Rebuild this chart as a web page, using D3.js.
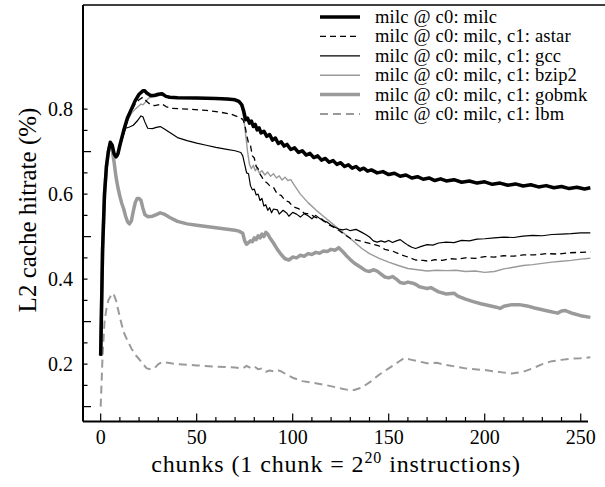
<!DOCTYPE html>
<html>
<head>
<meta charset="utf-8">
<script src="https://cdn.jsdelivr.net/npm/d3@7"></script>
<style>
  body { margin: 0; background: #fff; }
  svg text { font-family: "Liberation Serif", "Times New Roman", serif; fill: #000; }
</style>
</head>
<body>
<div id="chart"></div>
<script>
// series data, [chunk, hitrate]
const milc = [[0,0.22],[1,0.47],[2,0.6],[3,0.665],[4,0.70],[5,0.722],[6,0.715],[7,0.695],[8,0.688],[9,0.695],[10,0.715],[12,0.75],[14,0.78],[16,0.80],[18,0.82],[20,0.835],[22,0.843],[23,0.843],[24,0.838],[26,0.832],[28,0.832],[30,0.835],[32,0.836],[34,0.830],[36,0.828],[40,0.827],[50,0.826],[60,0.825],[66,0.824],[70,0.822],[72,0.818],[73.5,0.81],[74.5,0.795],[75.5,0.775],[76.5,0.779],[77.5,0.767],[78.5,0.772],[79.5,0.759],[80.5,0.764],[81.5,0.751],[82.5,0.756],[83.5,0.744],[85,0.748],[86.5,0.736],[88,0.740],[89.5,0.727],[91,0.732],[92.5,0.719],[94,0.723],[95.5,0.713],[97,0.717],[99,0.705],[101,0.709],[103,0.698],[105,0.702],[107,0.692],[109,0.696],[111,0.686],[113,0.690],[115,0.680],[117,0.684],[119,0.675],[121,0.679],[123,0.670],[125,0.674],[127,0.665],[129,0.669],[131,0.661],[133,0.665],[135,0.657],[137,0.661],[139,0.654],[141,0.657],[144,0.650],[147,0.653],[150,0.646],[153,0.649],[156,0.642],[159,0.645],[162,0.638],[165,0.641],[168,0.635],[171,0.638],[174,0.632],[177,0.636],[180,0.631],[184,0.634],[188,0.628],[192,0.631],[196,0.626],[200,0.629],[204,0.623],[208,0.626],[212,0.621],[216,0.624],[220,0.619],[224,0.622],[228,0.617],[232,0.620],[236,0.615],[240,0.618],[244,0.613],[248,0.616],[252,0.612],[255,0.615]];

const astar = [[0,0.22],[1,0.47],[2,0.6],[3,0.665],[4,0.70],[5,0.72],[6,0.713],[7,0.693],[8,0.686],[9,0.693],[10,0.712],[12,0.745],[14,0.775],[16,0.795],[18,0.812],[20,0.822],[22,0.828],[24,0.818],[26,0.81],[28,0.808],[30,0.81],[32,0.812],[34,0.806],[37,0.802],[45,0.800],[55,0.797],[62,0.793],[68,0.788],[72,0.781],[74,0.776],[75,0.765],[76,0.74],[77,0.72],[78,0.715],[79,0.69],[80,0.685],[81,0.665],[82,0.66],[83,0.647],[84,0.64],[85,0.632],[86.5,0.627],[88,0.62],[90,0.616],[92,0.6],[94,0.597],[96,0.585],[98,0.582],[100,0.571],[103,0.566],[106,0.555],[109,0.553],[112,0.545],[115,0.542],[118,0.53],[121,0.523],[124,0.515],[127,0.505],[130,0.496],[135,0.49],[140,0.484],[145,0.478],[148,0.47],[152,0.466],[156,0.458],[160,0.452],[164,0.445],[168,0.444],[171,0.442],[174,0.446],[178,0.444],[182,0.448],[186,0.447],[190,0.45],[195,0.449],[200,0.453],[205,0.452],[210,0.455],[215,0.454],[220,0.457],[226,0.457],[232,0.46],[238,0.459],[244,0.462],[250,0.463],[255,0.464]];

const gcc = [[0,0.22],[1,0.47],[2,0.6],[3,0.665],[4,0.70],[5,0.72],[6,0.713],[7,0.693],[8,0.686],[9,0.69],[10,0.71],[12,0.74],[13,0.755],[15,0.758],[17,0.762],[19,0.772],[21,0.784],[22,0.782],[23,0.77],[24.5,0.755],[27,0.754],[29,0.757],[31,0.759],[33,0.754],[36,0.745],[40,0.733],[45,0.726],[50,0.72],[55,0.715],[60,0.71],[65,0.706],[70,0.702],[73,0.698],[74,0.69],[75,0.67],[76,0.65],[77,0.648],[78,0.62],[79,0.61],[80,0.612],[81,0.598],[82,0.6],[83,0.585],[84,0.59],[85,0.572],[86,0.575],[87,0.562],[88,0.568],[89,0.556],[90,0.565],[92,0.563],[93,0.553],[95,0.562],[97,0.555],[98,0.548],[100,0.557],[102,0.553],[104,0.546],[106,0.554],[108,0.549],[110,0.542],[112,0.55],[114,0.543],[116,0.537],[118,0.534],[120,0.527],[122,0.522],[124,0.518],[126,0.516],[128,0.518],[130,0.514],[133,0.517],[136,0.51],[138,0.505],[140,0.499],[142,0.49],[144,0.487],[146,0.49],[148,0.487],[150,0.491],[152,0.486],[154,0.49],[156,0.493],[158,0.486],[160,0.48],[162,0.475],[164,0.472],[167,0.477],[170,0.481],[173,0.48],[176,0.485],[180,0.487],[184,0.486],[188,0.491],[192,0.49],[196,0.494],[200,0.495],[205,0.497],[210,0.499],[215,0.498],[220,0.501],[225,0.503],[230,0.502],[235,0.505],[240,0.506],[245,0.507],[250,0.509],[255,0.509]];

const bzip2 = [[0,0.22],[1,0.47],[2,0.6],[3,0.665],[4,0.70],[5,0.72],[6,0.712],[7,0.692],[8,0.685],[9,0.69],[10,0.71],[12,0.745],[14,0.772],[16,0.79],[18,0.80],[20,0.808],[21,0.812],[22,0.81],[23,0.815],[25,0.826],[28,0.83],[32,0.833],[36,0.826],[50,0.825],[60,0.824],[70,0.82],[73,0.813],[74.5,0.78],[75.5,0.74],[76.5,0.70],[77.5,0.67],[78.5,0.66],[79.5,0.668],[80.5,0.655],[81.5,0.662],[82.5,0.65],[84,0.655],[85.5,0.645],[87,0.652],[88.5,0.642],[90,0.648],[91.5,0.638],[93,0.643],[94.5,0.633],[96,0.64],[97.5,0.632],[99,0.634],[101,0.62],[104,0.6],[108,0.58],[112,0.563],[116,0.548],[120,0.533],[124,0.518],[128,0.503],[132,0.488],[136,0.472],[140,0.46],[145,0.449],[150,0.44],[155,0.432],[160,0.425],[165,0.422],[170,0.419],[175,0.421],[180,0.42],[185,0.421],[190,0.418],[195,0.419],[200,0.416],[205,0.418],[210,0.424],[215,0.428],[220,0.432],[225,0.434],[230,0.437],[235,0.44],[240,0.442],[245,0.444],[250,0.447],[255,0.449]];

const gobmk = [[0,0.22],[1,0.47],[2,0.6],[3,0.665],[4,0.70],[5,0.718],[6,0.705],[7,0.675],[8,0.64],[9,0.615],[10,0.595],[11,0.578],[12,0.565],[13,0.548],[14,0.535],[15,0.53],[16,0.537],[17,0.56],[18,0.58],[19,0.59],[20,0.59],[21,0.585],[22,0.567],[23,0.552],[24.5,0.547],[27,0.548],[29,0.552],[31,0.556],[33,0.553],[36,0.545],[40,0.536],[45,0.53],[50,0.527],[55,0.524],[60,0.521],[65,0.518],[70,0.515],[72,0.513],[74,0.508],[75,0.49],[76,0.482],[77,0.486],[78,0.49],[79,0.488],[80,0.497],[81,0.493],[82,0.502],[83,0.497],[84,0.506],[85,0.5],[86,0.51],[87,0.506],[88,0.498],[90,0.485],[92,0.47],[94,0.458],[96,0.448],[98,0.445],[100,0.452],[102,0.45],[104,0.456],[106,0.454],[108,0.46],[110,0.458],[112,0.463],[114,0.461],[116,0.466],[118,0.465],[120,0.47],[122,0.468],[124,0.474],[126,0.465],[128,0.455],[130,0.446],[132,0.438],[134,0.432],[136,0.426],[138,0.42],[140,0.418],[142,0.422],[144,0.419],[146,0.412],[148,0.405],[150,0.403],[152,0.406],[154,0.4],[156,0.392],[158,0.39],[160,0.393],[162,0.391],[164,0.388],[166,0.382],[168,0.38],[170,0.378],[172,0.38],[174,0.375],[176,0.37],[180,0.365],[184,0.367],[186,0.36],[190,0.353],[194,0.347],[198,0.342],[202,0.338],[206,0.334],[208,0.331],[210,0.336],[214,0.34],[218,0.34],[222,0.337],[226,0.332],[230,0.328],[234,0.324],[238,0.32],[240,0.325],[242,0.326],[246,0.319],[250,0.314],[255,0.31]];

const lbm = [[0,0.1],[1,0.22],[2,0.3],[3,0.33],[4,0.35],[6,0.367],[7,0.362],[8,0.35],[10,0.31],[12,0.275],[14,0.255],[16,0.237],[18,0.222],[20,0.212],[22,0.2],[24,0.19],[26,0.188],[28,0.19],[30,0.2],[32,0.205],[35,0.203],[40,0.2],[50,0.197],[60,0.194],[70,0.192],[74,0.19],[76,0.196],[78,0.191],[80,0.195],[82,0.188],[84,0.19],[86,0.182],[88,0.185],[90,0.183],[92,0.186],[94,0.183],[97,0.175],[100,0.168],[105,0.16],[112,0.155],[118,0.15],[124,0.144],[128,0.14],[132,0.139],[136,0.145],[140,0.157],[145,0.175],[150,0.19],[155,0.205],[158,0.214],[162,0.21],[166,0.206],[170,0.202],[175,0.203],[180,0.198],[190,0.19],[200,0.186],[210,0.18],[214,0.178],[220,0.182],[225,0.19],[230,0.2],[235,0.207],[240,0.21],[245,0.213],[250,0.214],[255,0.216]];

const seriesNames = ["milc @ c0: milc", "milc @ c0: milc, c1: astar", "milc @ c0: milc, c1: gcc",
                     "milc @ c0: milc, c1: bzip2", "milc @ c0: milc, c1: gobmk", "milc @ c0: milc, c1: lbm"];
const xTicks = [0, 50, 100, 150, 200, 250];
const yTicks = [0.2, 0.4, 0.6, 0.8];

const width = 605, height = 487;
const plot = { left: 83, right: 603, top: 5, bottom: 421.5 };
const serif = "'Liberation Serif', 'Times New Roman', serif";

const svg = d3.select("#chart").append("svg")
  .attr("width", width)
  .attr("height", height)
  .attr("font-family", serif);

const x = d3.scaleLinear().domain([-9.2, 261.6]).range([plot.left, plot.right]);
const y = d3.scaleLinear().domain([0.065, 1.045]).range([plot.bottom, plot.top]);

// line styles, same order as seriesNames
const styles = [
  { data: milc,  color: "#000",    width: 3.5, dash: null },
  { data: astar, color: "#000",    width: 1.3, dash: "6,4" },
  { data: gcc,   color: "#000",    width: 1.2, dash: null },
  { data: bzip2, color: "#9a9a9a", width: 1.4, dash: null },
  { data: gobmk, color: "#9a9a9a", width: 3.5, dash: null },
  { data: lbm,   color: "#9a9a9a", width: 2,   dash: "8,5" }
];

const line = d3.line().x(d => x(d[0])).y(d => y(d[1]));

// draw order: grey ones first, black thick last
[4, 3, 5, 2, 1, 0].forEach(i => {
  const s = styles[i];
  svg.append("path")
    .datum(s.data)
    .attr("d", line)
    .attr("fill", "none")
    .attr("stroke", s.color)
    .attr("stroke-width", s.width)
    .attr("stroke-linejoin", "round")
    .attr("stroke-dasharray", s.dash);
});

// frame
svg.append("line").attr("x1", plot.left).attr("x2", width).attr("y1", plot.top).attr("y2", plot.top)
  .attr("stroke", "#000").attr("stroke-width", 1.5);
svg.append("line").attr("x1", plot.left).attr("x2", plot.left).attr("y1", plot.top).attr("y2", plot.bottom)
  .attr("stroke", "#000").attr("stroke-width", 2);
svg.append("line").attr("x1", plot.left).attr("x2", 588).attr("y1", plot.bottom).attr("y2", plot.bottom)
  .attr("stroke", "#000").attr("stroke-width", 2);

// x ticks (inward)
const xMinor = d3.range(0, 251, 10);
svg.selectAll(".xt").data(xMinor).enter().append("line")
  .attr("x1", d => x(d)).attr("x2", d => x(d))
  .attr("y1", plot.bottom).attr("y2", d => d % 50 === 0 ? plot.bottom - 8 : plot.bottom - 4.5)
  .attr("stroke", "#000").attr("stroke-width", 1.2);
svg.selectAll(".xl").data(xTicks).enter().append("text")
  .attr("x", d => x(d)).attr("y", 444)
  .attr("text-anchor", "middle").attr("font-size", 20)
  .text(d => d);

// y ticks (inward), minor every 0.05
const yMinor = d3.range(2, 17).map(k => k * 0.05);
svg.selectAll(".yt").data(yMinor).enter().append("line")
  .attr("x1", plot.left).attr("x2", (d, i) => i % 4 === 0 ? plot.left + 8 : plot.left + 4.5)
  .attr("y1", d => y(d)).attr("y2", d => y(d))
  .attr("stroke", "#000").attr("stroke-width", 1.2);
svg.selectAll(".yl").data(yTicks).enter().append("text")
  .attr("x", 73).attr("y", d => y(d) + 7)
  .attr("text-anchor", "end").attr("font-size", 20)
  .text(d => d.toFixed(1));

// axis titles
svg.append("text")
  .attr("transform", "translate(36,210) rotate(-90)")
  .attr("text-anchor", "middle").attr("font-size", 25)
  .text("L2 cache hitrate (%)");

const xl = svg.append("text")
  .attr("x", 336).attr("y", 472)
  .attr("text-anchor", "middle").attr("font-size", 24)
  .attr("letter-spacing", 0.9);
xl.append("tspan").text("chunks (1 chunk = 2");
xl.append("tspan").attr("dy", -9).attr("font-size", 16).text("20");
xl.append("tspan").attr("dy", 9).text(" instructions)");

// legend
const legend = svg.append("g");
seriesNames.forEach((name, i) => {
  const s = styles[i];
  const ly = 17 + i * 19.4;
  legend.append("line")
    .attr("x1", 320).attr("x2", 360).attr("y1", ly).attr("y2", ly)
    .attr("stroke", s.color).attr("stroke-width", s.width)
    .attr("stroke-dasharray", s.dash);
  legend.append("text")
    .attr("x", 375).attr("y", ly + 6)
    .attr("font-size", 18.5)
    .attr("letter-spacing", 0.2)
    .text(name);
});
</script>
</body>
</html>
